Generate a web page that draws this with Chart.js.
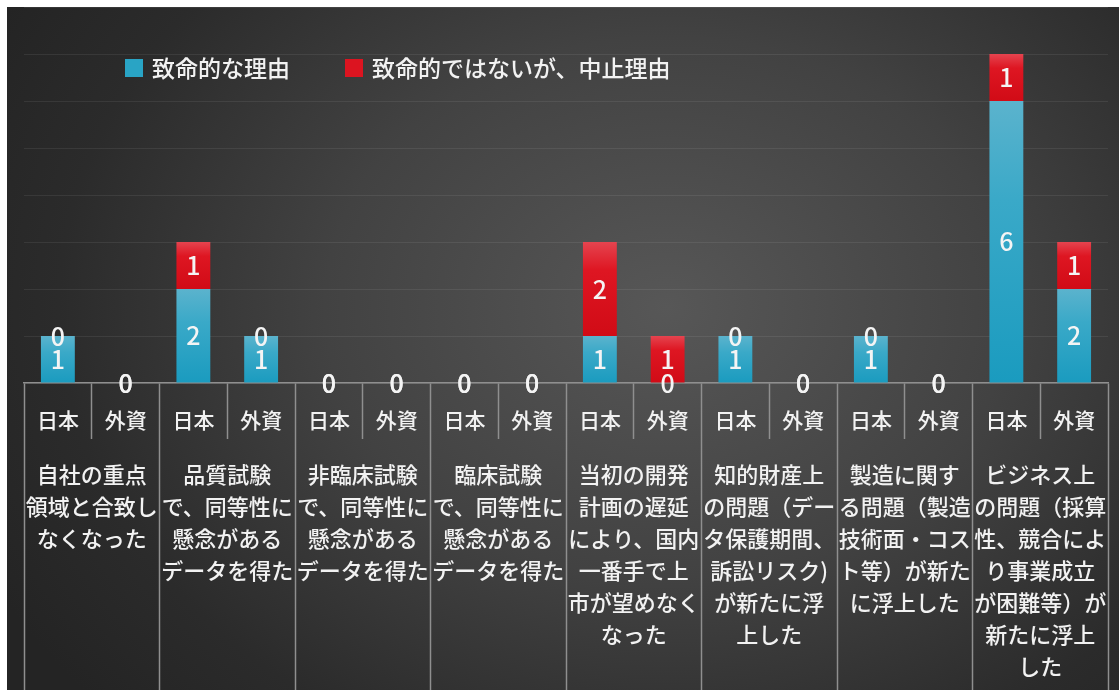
<!DOCTYPE html>
<html lang="ja">
<head>
<meta charset="utf-8">
<script src="https://cdn.jsdelivr.net/npm/chart.js@4.4.1/dist/chart.umd.min.js"></script>
<style>
  html, body { margin: 0; padding: 0; background: #ffffff; }
  #wrap { position: absolute; left: 0; top: 0; width: 1119px; height: 690px; overflow: hidden; }
  #bg {
    position: absolute; left: 7px; top: 7px; width: 1112px; height: 683px;
    background: radial-gradient(ellipse 760px 600px at 660px 300px, #575757 0%, #424242 45%, #2b2b2b 80%, #242424 100%);
  }
  canvas { position: absolute; left: 0; top: 0; }
</style>
</head>
<body>
<div id="wrap">
  <div id="bg"></div>
  <canvas id="chart" width="1119" height="690"></canvas>
</div>
<script>
// Sub-categories (one bar each) and the reason groups they belong to
const subLabels = ['日本', '外資', '日本', '外資', '日本', '外資', '日本', '外資',
                   '日本', '外資', '日本', '外資', '日本', '外資', '日本', '外資'];

const groupLabels = [
  ['自社の重点', '領域と合致し', 'なくなった'],
  ['品質試験', 'で、同等性に', '懸念がある', 'データを得た'],
  ['非臨床試験', 'で、同等性に', '懸念がある', 'データを得た'],
  ['臨床試験', 'で、同等性に', '懸念がある', 'データを得た'],
  ['当初の開発', '計画の遅延', 'により、国内', '一番手で上', '市が望めなく', 'なった'],
  ['知的財産上', 'の問題（デー', 'タ保護期間、', '訴訟リスク)', 'が新たに浮', '上した'],
  ['製造に関す', 'る問題（製造', '技術面・コス', 'ト等）が新た', 'に浮上した'],
  ['ビジネス上', 'の問題（採算', '性、競合によ', 'り事業成立', 'が困難等）が', '新たに浮上', 'した']
];

const seriesNames = ['致命的な理由', '致命的ではないが、中止理由'];

// Counts per bar (日本 / 外資 for each reason)
const fatalCounts    = [1, 0, 2, 1, 0, 0, 0, 0, 1, 0, 1, 0, 1, 0, 6, 2];
const nonFatalCounts = [0, 0, 1, 0, 0, 0, 0, 0, 2, 1, 0, 0, 0, 0, 1, 1];

const yMax = 8;

const FONT = '"Noto Sans CJK JP", "Noto Sans", sans-serif';
const LINE_GRAY = '#8f8f8f';

// Vertical gradient for one stacked segment, lighter at its top edge
function segmentFill(ctx, stops) {
  const chart = ctx.chart;
  const yScale = chart.scales && chart.scales.y;
  if (!chart.chartArea || !yScale || ctx.dataIndex === undefined) return stops[stops.length - 1][1];
  const i = ctx.dataIndex;
  const base = ctx.datasetIndex === 0 ? 0 : fatalCounts[i];
  const top = ctx.datasetIndex === 0 ? fatalCounts[i] : fatalCounts[i] + nonFatalCounts[i];
  const yTop = yScale.getPixelForValue(top);
  const yBase = yScale.getPixelForValue(base);
  if (!(yBase - yTop > 0.5)) return stops[stops.length - 1][1];
  const g = chart.ctx.createLinearGradient(0, yTop, 0, yBase);
  stops.forEach(s => g.addColorStop(s[0], s[1]));
  return g;
}

const blueStops = [[0, '#5bb3cd'], [0.35, '#3aa9c8'], [1, '#1a9bbf']];
const redStops  = [[0, '#e5444f'], [0.3, '#de1622'], [1, '#d10b16']];

// Value labels centred in every segment (zero values sit on the stack edge)
const valueLabels = {
  id: 'valueLabels',
  afterDatasetsDraw(chart) {
    const c = chart.ctx;
    c.save();
    c.fillStyle = '#f4f4f4';
    c.font = '500 25px ' + FONT;
    c.textAlign = 'center';
    c.textBaseline = 'middle';
    chart.data.datasets.forEach((ds, di) => {
      const meta = chart.getDatasetMeta(di);
      meta.data.forEach((bar, i) => {
        const p = bar.getProps(['x', 'y', 'base'], true);
        c.fillText(String(ds.data[i]), p.x, (p.y + p.base) / 2);
      });
    });
    c.restore();
  }
};

// Legend drawn inside the plot area
const innerLegend = {
  id: 'innerLegend',
  afterDraw(chart) {
    const c = chart.ctx;
    c.save();
    c.font = '500 23px ' + FONT;
    c.textBaseline = 'middle';
    c.textAlign = 'left';
    let x = 125;
    const yMid = 68;
    const colors = ['#29a4c5', '#dc1420'];
    chart.data.datasets.forEach((ds, di) => {
      c.fillStyle = colors[di];
      c.fillRect(x, yMid - 9, 18, 18);
      c.fillStyle = '#f2f2f2';
      c.fillText(ds.label, x + 27, yMid);
      x += 27 + c.measureText(ds.label).width + 55;
    });
    c.restore();
  }
};

new Chart(document.getElementById('chart'), {
  type: 'bar',
  data: {
    labels: subLabels,
    datasets: [
      {
        label: seriesNames[0],
        data: fatalCounts,
        backgroundColor: ctx => segmentFill(ctx, blueStops),
        borderWidth: 0,
        categoryPercentage: 1.0,
        barPercentage: 0.5
      },
      {
        label: seriesNames[1],
        data: nonFatalCounts,
        backgroundColor: ctx => segmentFill(ctx, redStops),
        borderWidth: 0,
        categoryPercentage: 1.0,
        barPercentage: 0.5
      }
    ]
  },
  options: {
    responsive: false,
    devicePixelRatio: 1,
    animation: false,
    layout: { padding: { left: 24, right: 11, top: 7, bottom: 0 } },
    plugins: {
      legend: { display: false },
      tooltip: { enabled: false },
      title: { display: false }
    },
    scales: {
      x: {
        stacked: true,
        offset: true,
        weight: 0,
        grid: {
          offset: true,
          drawOnChartArea: false,
          drawTicks: true,
          tickLength: 56,
          tickColor: LINE_GRAY,
          tickWidth: 1.5
        },
        border: { display: true, color: LINE_GRAY, width: 1.5 },
        ticks: {
          color: '#f2f2f2',
          font: { family: FONT, size: 21, weight: '500', lineHeight: 1.15 },
          padding: -31,
          maxRotation: 0,
          minRotation: 0,
          autoSkip: false
        },
        afterFit(scale) { scale.height = 56; }
      },
      x2: {
        type: 'category',
        position: 'bottom',
        labels: groupLabels,
        offset: true,
        weight: 1,
        grid: {
          offset: true,
          drawOnChartArea: false,
          drawTicks: true,
          tickLength: 251,
          tickColor: LINE_GRAY,
          tickWidth: 1.5
        },
        border: { display: false },
        ticks: {
          color: '#f2f2f2',
          font: { family: FONT, size: 22, weight: '500', lineHeight: '32px' },
          padding: -231,
          maxRotation: 0,
          minRotation: 0,
          autoSkip: false
        },
        afterFit(scale) { scale.height = 251; }
      },
      y: {
        stacked: true,
        min: 0,
        max: yMax,
        ticks: { display: false, stepSize: 1 },
        grid: { color: 'rgba(255,255,255,0.075)', lineWidth: 1, drawTicks: false },
        border: { display: false },
        afterFit(scale) { scale.width = 0; }
      }
    }
  },
  plugins: [valueLabels, innerLegend]
});
</script>
</body>
</html>
